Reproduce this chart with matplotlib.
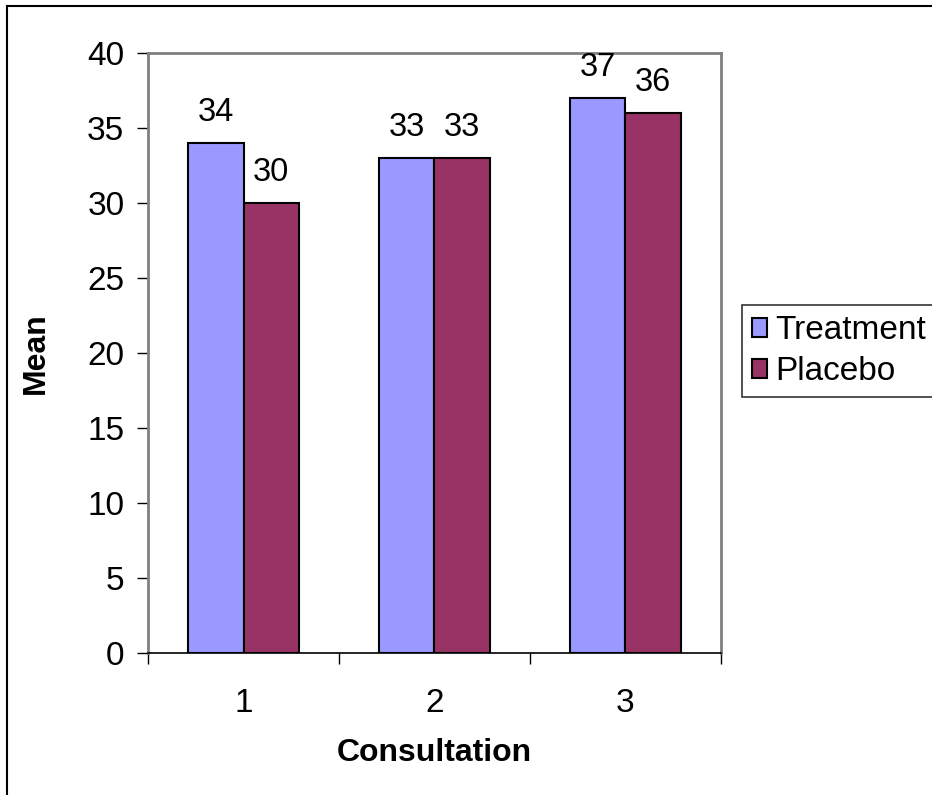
# Mean score per consultation, treatment vs placebo (Excel-style grouped bars)
import matplotlib.pyplot as plt
import numpy as np
from matplotlib.lines import Line2D

plt.rcParams['font.family'] = ['Liberation Sans', 'DejaVu Sans']

consultations = ['1', '2', '3']
treatment = [34, 33, 37]
placebo = [30, 33, 36]

fig = plt.figure(figsize=(9.32, 7.95), dpi=100)
ax = fig.add_axes([0.1588, 0.1786, 0.6148, 0.7547])

# outer chart border (only top/left visible in the original)
fx, fy = 6.5/932, 1 - 5.5/795
fig.lines.append(Line2D([fx, fx], [0, fy], transform=fig.transFigure, color='black', linewidth=1.5))
fig.lines.append(Line2D([fx, 1], [fy, fy], transform=fig.transFigure, color='black', linewidth=1.5))

x = np.arange(len(consultations))
w = 0.29
b1 = ax.bar(x - w/2, treatment, w, color='#9999FF', edgecolor='black', linewidth=1.5, label='Treatment')
b2 = ax.bar(x + w/2, placebo, w, color='#993366', edgecolor='black', linewidth=1.5, label='Placebo')

for bars in (b1, b2):
    for r in bars:
        ax.annotate(f'{r.get_height():.0f}', (r.get_x() + r.get_width()/2, r.get_height()),
                    xytext=(0, 11), textcoords='offset points', ha='center', va='bottom', fontsize=23.5)

ax.set_xlim(-0.5, 2.5)
ax.set_ylim(0, 40)
ax.set_yticks(range(0, 41, 5))
ax.set_xticks(x)
ax.set_xticklabels(consultations)
ax.set_xticks([-0.5, 0.5, 1.5, 2.5], minor=True)
ax.tick_params(axis='x', which='major', length=0, pad=25, labelsize=24)
ax.tick_params(axis='x', which='minor', length=8, width=1, direction='out', color='black')
ax.tick_params(axis='y', length=8, width=1, direction='out', color='black', labelsize=24, pad=9)

for s in ax.spines.values():
    s.set_color('#808080')
    s.set_linewidth(2)
ax.spines['bottom'].set_color('black')
ax.spines['bottom'].set_linewidth(1.2)

ax.set_xlabel('Consultation', fontsize=23, fontweight='bold', labelpad=14)
ax.set_ylabel('Mean', fontsize=23, fontweight='bold', labelpad=26)

leg = ax.legend(loc='center left', bbox_to_anchor=(1.037, 0.503), fontsize=24, frameon=True,
                fancybox=False, edgecolor='black', handlelength=0.45, handleheight=0.5,
                handletextpad=0.25, borderpad=0.3, labelspacing=0.3, borderaxespad=0)
leg.get_frame().set_linewidth(1.2)

fig.savefig('out.png', dpi=100)
